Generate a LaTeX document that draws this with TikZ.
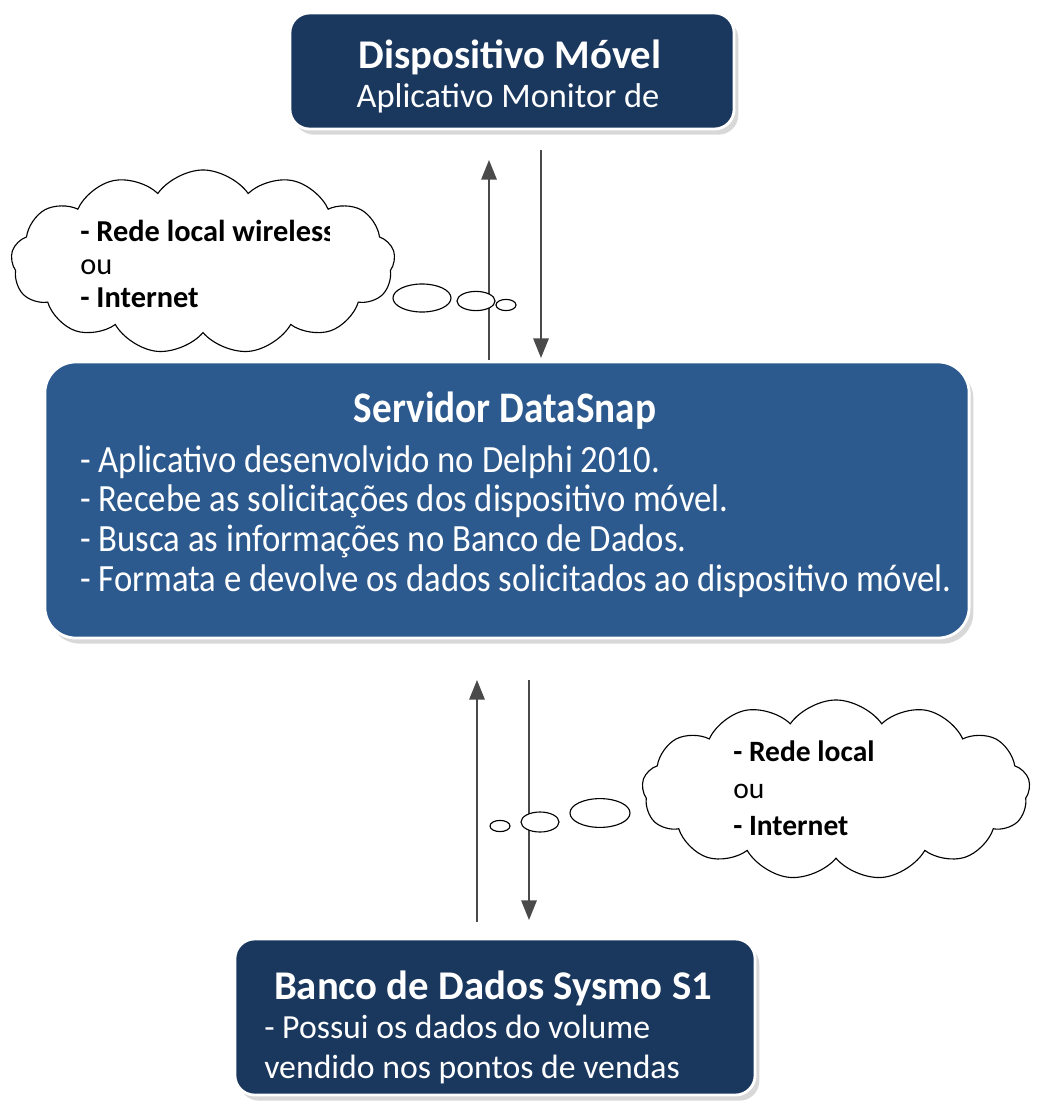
\documentclass[tikz,border=0pt]{standalone}
\usepackage{fontspec}
\setmainfont{Carlito}
\newfontfamily\estreita[FakeStretch=0.9]{Carlito}
\usepackage{tikz}
\usetikzlibrary{shapes.symbols,shadows}
\definecolor{azul_e}{HTML}{1A375E}
\definecolor{azul_m}{HTML}{2D5A8E}
\definecolor{seta}{HTML}{4A4A4A}
\tikzset{
  caixa/.style = {rounded corners=14pt, draw=white, line width=2pt,
    drop shadow={shadow xshift=3pt, shadow yshift=-4pt, fill=black!30}},
  caixa_e/.style = {caixa, fill=azul_e},% caixa escura
  caixa_m/.style = {caixa, fill=azul_m, rounded corners=22pt},% caixa do servidor
  texto_b/.style = {text=white, inner sep=0pt},% texto branco
  nuvem/.style = {cloud, cloud puffs=13, cloud puff arc=110, aspect=2.1,
    draw=black, thick, fill=white, inner sep=0pt},
  bolha/.style = {ellipse, draw=black, thick, fill=white, inner sep=0pt},
  seta_c/.style = {draw=seta, line width=1.3pt, -{Triangle[length=14pt,width=11pt]}},
}
\usetikzlibrary{arrows.meta,shapes.geometric}
\begin{document}
\begin{tikzpicture}[x=0.025cm, y=-0.025cm]
  \useasboundingbox (0,0) rectangle (1040,1109);
  % dispositivo movel
  \node [caixa_e, minimum width=11.1cm, minimum height=2.9cm] (movel) at (512,71) {};
  \node [texto_b, font=\fontsize{29}{34}\selectfont\bfseries] (movel_t) at (510,57) {Dispositivo Móvel};
  \node [texto_b, font=\fontsize{24.5}{30}\selectfont] (movel_s) at (508,98) {Aplicativo Monitor de};
  % servidor
  \node [caixa_m, minimum width=23.1cm, minimum height=6.9cm] (servidor) at (507,500) {};
  \node [texto_b, font=\estreita\fontsize{31}{36}\selectfont\bfseries] (servidor_t) at (505,411) {Servidor DataSnap};
  \node [texto_b, anchor=north west, align=left, font=\estreita\fontsize{27.4}{28.4}\selectfont] (servidor_c) at (80,445)
    {- Aplicativo desenvolvido no Delphi 2010.\\
     - Recebe as solicitações dos dispositivo móvel.\\
     - Busca as informações no Banco de Dados.\\
     - Formata e devolve os dados solicitados ao dispositivo móvel.};
  % banco de dados
  \node [caixa_e, minimum width=13cm, minimum height=3.9cm] (banco) at (495,1017) {};
  \node [texto_b, font=\fontsize{29}{34}\selectfont\bfseries] (banco_t) at (493,988) {Banco de Dados Sysmo S1};
  \node [texto_b, anchor=north west, align=left, font=\fontsize{24}{28.6}\selectfont] (banco_c) at (264,1015)
    {- Possui os dados do volume\\vendido nos pontos de vendas};
  % setas
  \coordinate (a1) at (489,360); \coordinate (a2) at (489,160);
  \coordinate (b1) at (541,150); \coordinate (b2) at (541,358);
  \coordinate (c1) at (477,922); \coordinate (c2) at (477,680);
  \coordinate (d1) at (529,680); \coordinate (d2) at (529,920);
  \draw [seta_c] (a1) -- (a2);
  \draw [seta_c] (b1) -- (b2);
  \draw [seta_c] (c1) -- (c2);
  \draw [seta_c] (d1) -- (d2);
  % nuvem de cima
  \node [nuvem, minimum width=9.6cm, minimum height=4.6cm] (nuvem_a) at (203,262) {};
  \node [bolha, minimum width=1.45cm, minimum height=0.7cm] (bolha_a1) at (422,298) {};
  \node [bolha, minimum width=0.95cm, minimum height=0.48cm] (bolha_a2) at (476,301) {};
  \node [bolha, minimum width=0.5cm, minimum height=0.28cm] (bolha_a3) at (506,305) {};
  \begin{scope}
    \clip (60,200) rectangle (329,320);
    \node [anchor=north west, align=left, inner sep=0pt, font=\fontsize{21.6}{23.5}\selectfont] (nuvem_a_t) at (80,220)
      {\textbf{- Rede local wireless}\\ou\\\textbf{- Internet}};
  \end{scope}
  % nuvem de baixo
  \node [nuvem, minimum width=9.7cm, minimum height=4.5cm] (nuvem_b) at (836,790) {};
  \node [bolha, minimum width=1.5cm, minimum height=0.72cm] (bolha_b1) at (600,813) {};
  \node [bolha, minimum width=0.95cm, minimum height=0.5cm] (bolha_b2) at (540,822) {};
  \node [bolha, minimum width=0.5cm, minimum height=0.28cm] (bolha_b3) at (500,826) {};
  \node [anchor=north west, align=left, inner sep=0pt, font=\fontsize{21}{26.5}\selectfont] (nuvem_b_t) at (733,740)
    {\textbf{- Rede local}\\ou\\\textbf{- Internet}};
\end{tikzpicture}
\end{document}
